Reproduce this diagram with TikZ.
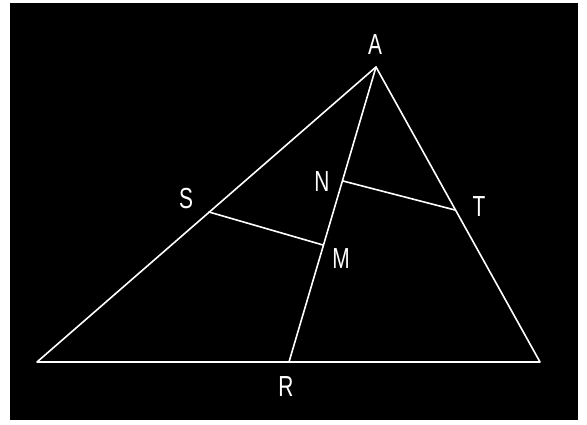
\documentclass[tikz,border=0pt]{standalone}
\usepackage{fontspec}
\setmainfont{Liberation Sans}
\begin{document}
\begin{tikzpicture}[x=1pt,y=-1pt,
  edge/.style={draw=white,line width=1.6pt,line cap=round,line join=round},
  lbl/.style={text=white,font=\fontsize{29}{30}\selectfont,xscale=0.72,inner sep=0pt,anchor=center}]
\useasboundingbox (0,0) rectangle (587,425);
\fill[white] (0,0) rectangle (587,425);
\fill[black] (10,3) rectangle (578,420);
\coordinate (A) at (376,67);
\coordinate (B) at (37,362);
\coordinate (C) at (540,362);
\coordinate (R) at (289,362);
\coordinate (S) at (209,212);
\coordinate (M) at (323,245);
\coordinate (N) at (343,181);
\coordinate (T) at (455,210);
\draw[edge] (A) -- (B) -- (C) -- cycle;
\draw[edge] (A) -- (R);
\draw[edge] (S) -- (M);
\draw[edge] (N) -- (T);
\node[lbl] (lA) at (375,45) {A};
\node[lbl] (lS) at (186,199) {S};
\node[lbl] (lN) at (322,182) {N};
\node[lbl] (lM) at (341,259) {M};
\node[lbl] (lT) at (479,207) {T};
\node[lbl] (lR) at (286,387) {R};
\end{tikzpicture}
\end{document}
